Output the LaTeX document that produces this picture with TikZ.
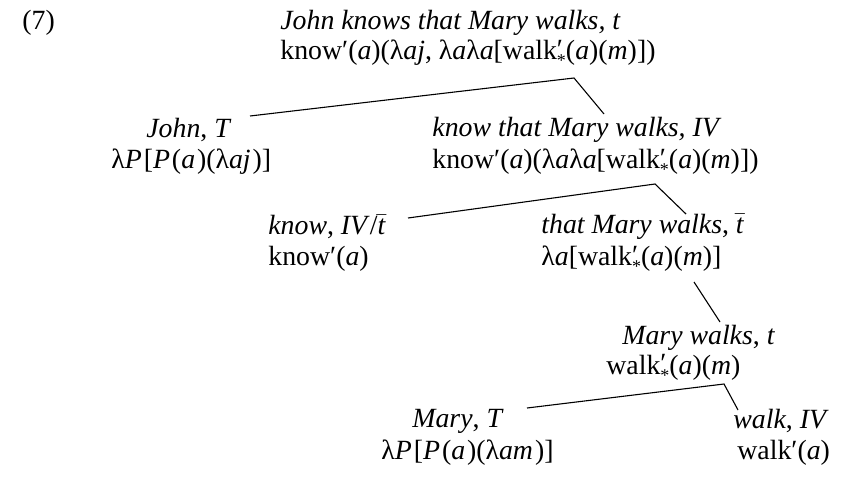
\documentclass[tikz,border=0pt]{standalone}
\usepackage{fontspec}
\setmainfont{Liberation Serif}
\newcommand{\wst}{walk\rlap{\raisebox{0.1ex}{′}}\raisebox{-0.55ex}{\small *}}
\newcommand{\lam}{λ}
\newcommand{\mv}[1]{\textit{#1}\kern0.07em}
\begin{document}
\begin{tikzpicture}[x=0.5pt,y=-0.5pt,
  lbl/.style={inner sep=0pt,anchor=west,font=\fontsize{13.9}{16}\selectfont},
  edge/.style={line width=0.55pt}]
\useasboundingbox (0,0) rectangle (844,487);
\node[lbl] (num) at (22,23) {(7)};
\node[lbl] (r1) at (280,23) {\textit{John knows that Mary walks, t}};
\node[lbl] (r2) at (280,53) {know′(\textit{a})(\lam\textit{aj}, \lam\textit{a}\lam\textit{a}[\wst(\textit{a})(\textit{m})])};
\node[lbl] (j1) at (146,130) {\textit{John}, \textit{T}};
\node[lbl] (j2) at (111,162) {\lam\mv{P}[\mv{P}(\mv{a})(\lam\mv{aj})]};
\node[lbl] (k1) at (432,130) {\textit{know that Mary walks, IV}};
\node[lbl] (k2) at (432,162) {know′(\textit{a})(\lam\textit{a}\lam\textit{a}[\wst(\textit{a})(\textit{m})])};
\node[lbl] (n1) at (268,227) {\textit{know}, \textit{IV}/$\bar{\textit{t}}$};
\node[lbl] (n2) at (268,259) {know′(\textit{a})};
\node[lbl] (t1) at (541,227) {\textit{that Mary walks}, $\bar{\textit{t}}$};
\node[lbl] (t2) at (541,259) {\lam\textit{a}[\wst(\textit{a})(\textit{m})]};
\node[lbl] (m1) at (622,338) {\textit{Mary walks}, \textit{t}};
\node[lbl] (m2) at (606,368) {\wst(\textit{a})(\textit{m})};
\node[lbl] (y1) at (412,421) {\textit{Mary}, \textit{T}};
\node[lbl] (y2) at (381,453) {\lam\mv{P}[\mv{P}(\mv{a})(\lam\mv{am})]};
\node[lbl] (w1) at (733,421) {\textit{walk}, \textit{IV}};
\node[lbl] (w2) at (737,453) {walk′(\textit{a})};
\coordinate (a1) at (574,78);
\coordinate (a1l) at (250,116);
\coordinate (a1r) at (604,114);
\coordinate (a2) at (655,184);
\coordinate (a2l) at (408,218);
\coordinate (a2r) at (686,214);
\coordinate (a3) at (694,282);
\coordinate (a3r) at (720,322);
\coordinate (a4) at (724,384);
\coordinate (a4l) at (527,408);
\coordinate (a4r) at (738,410);
\draw[edge] (a1l) -- (a1) -- (a1r);
\draw[edge] (a2l) -- (a2) -- (a2r);
\draw[edge] (a3) -- (a3r);
\draw[edge] (a4l) -- (a4) -- (a4r);
\end{tikzpicture}
\end{document}
